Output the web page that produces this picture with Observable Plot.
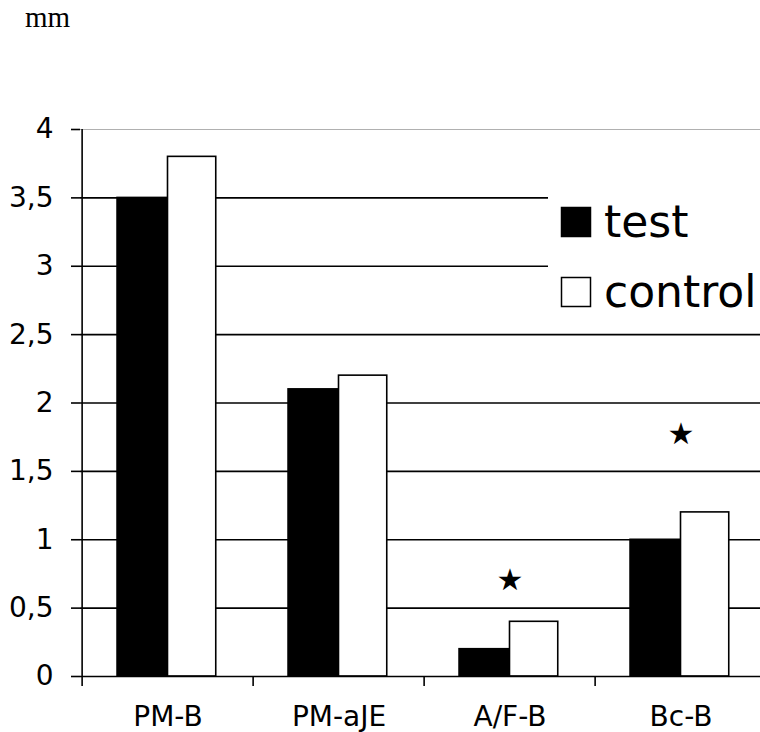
<!DOCTYPE html>
<html>
<head>
<meta charset="utf-8">
<script src="https://cdn.jsdelivr.net/npm/d3@7"></script>
<script src="https://cdn.jsdelivr.net/npm/@observablehq/plot@0.6"></script>
<style>
  html, body { margin: 0; padding: 0; background: #fff; overflow: hidden; }
  #wrap { position: relative; width: 760px; height: 732px; overflow: hidden; }
  #chart { position: absolute; left: 0; top: 0; }
  #overlay { position: absolute; left: 0; top: 0; pointer-events: none; }
</style>
</head>
<body>
<div id="wrap">
  <div id="chart"></div>
  <svg id="overlay" width="760" height="732"></svg>
</div>
<script>
// ---- data ----
const categories = ["PM-B", "PM-aJE", "A/F-B", "Bc-B"];
const testValues = [3.5, 2.1, 0.2, 1.0];
const controlValues = [3.8, 2.2, 0.4, 1.2];
const starCategories = ["A/F-B", "Bc-B"];
const starValues = [0.7, 1.77];
const yTicks = [0, 0.5, 1, 1.5, 2, 2.5, 3, 3.5, 4];
const gridValues = [0.5, 1, 1.5, 2, 2.5, 3, 3.5];
const topValue = [4];
const seriesNames = ["test", "control"];
const unitLabel = "mm";

// ---- layout ----
const W = 767, H = 740;
const mL = 80, mR = 0, mT = 129, mB = 64;
const step = (W - mL - mR) / categories.length;
const half = step / 2;

const testData = categories.map((c, i) => ({category: c, value: testValues[i]}));
const controlData = categories.map((c, i) => ({category: c, value: controlValues[i]}));
const stars = starCategories.map((c, i) => ({category: c, value: starValues[i]}));

const fmt = d => String(d).replace(".", ",");

const plot = Plot.plot({
  width: W,
  height: H,
  marginLeft: mL,
  marginRight: mR,
  marginTop: mT,
  marginBottom: mB,
  style: {fontFamily: "DejaVu Sans", background: "#fff", color: "#000", maxWidth: "none", overflow: "visible"},
  x: {domain: categories, padding: 0},
  y: {domain: [0, 4]},
  marks: [
    Plot.ruleY(topValue, {stroke: "#b0b0b0", strokeWidth: 1.2}),
    Plot.ruleY(gridValues, {stroke: "#000", strokeWidth: 1.6}),
    Plot.barY(testData, {x: "category", y: "value", fill: "#000", stroke: "#000", strokeWidth: 1.5,
      insetLeft: 35, insetRight: step - 85.5}),
    Plot.barY(controlData, {x: "category", y: "value", fill: "#fff", stroke: "#000", strokeWidth: 1.6,
      insetLeft: 85.5, insetRight: step - 134.5}),
    Plot.ruleY([0], {stroke: "#000", strokeWidth: 1.6}),
    Plot.ruleX([categories[0]], {y1: 0, y2: 4, dx: -half, stroke: "#000", strokeWidth: 1.6}),
    Plot.text(stars, {x: "category", y: "value", text: () => "★", fontSize: 30, fill: "#000"}),
    Plot.axisY({ticks: yTicks, tickFormat: fmt, tickSize: 9, tickPadding: 18, fontSize: 28,
      strokeWidth: 1.6, label: null}),
    Plot.axisX({tickSize: 10, tickFormat: () => "", dx: -half, strokeWidth: 1.6, label: null}),
    Plot.axisX({tickSize: 0, tickPadding: 30, fontSize: 28, label: null})
  ]
});
document.getElementById("chart").appendChild(plot);

// ---- overlay: unit label and legend ----
const ov = d3.select("#overlay");
ov.append("text").attr("x", 25).attr("y", 27)
  .attr("font-family", "Liberation Serif").attr("font-size", 29).text(unitLabel);

const lg = ov.append("g");
lg.append("rect").attr("x", 548).attr("y", 160).attr("width", 212).attr("height", 160).attr("fill", "#fff");
const rows = [{y: 237, fill: "#000"}, {y: 307, fill: "#fff"}];
seriesNames.forEach((name, i) => {
  const r = rows[i];
  lg.append("rect").attr("x", 561.5).attr("y", r.y - 29.5).attr("width", 29).attr("height", 29)
    .attr("fill", r.fill).attr("stroke", "#000").attr("stroke-width", 1.5);
  lg.append("text").attr("x", 604).attr("y", r.y)
    .attr("font-family", "DejaVu Sans").attr("font-size", 44).text(name);
});
</script>
</body>
</html>
